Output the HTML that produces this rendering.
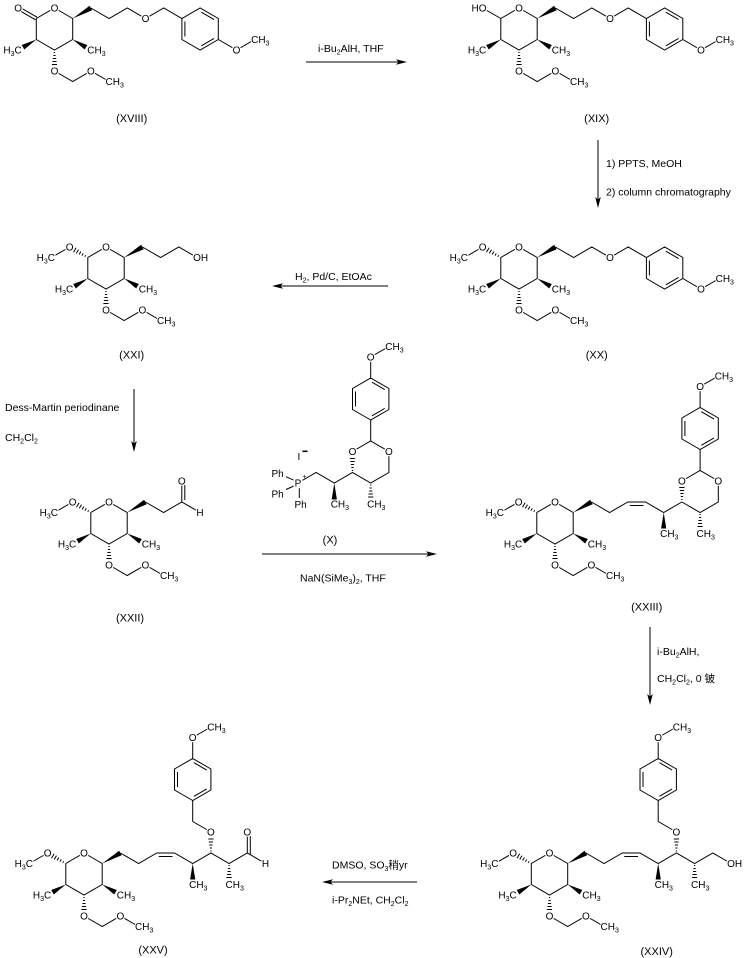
<!DOCTYPE html>
<html><head><meta charset="utf-8"><style>
html,body{margin:0;padding:0;background:#fff;}
svg{display:block;}
text{font-family:"Liberation Sans","Noto Sans CJK SC",sans-serif;font-size:10px;fill:#000;stroke:none;}
.s{font-size:7px;}
.r{font-size:10.5px;}
.l{font-size:11px;}
.b{stroke:#000;stroke-width:1;fill:none;}
.m{fill:#fff;stroke:none;}
</style></head><body>
<svg width="746" height="958" viewBox="0 0 746 958" xmlns="http://www.w3.org/2000/svg">
<rect width="746" height="958" fill="#fff"/>

<!-- XVIII -->
<g transform="translate(54.5,29)">
<path class="b" d="M0,-21L18.2,-10.5L18.2,10.5L0,21L-18.2,10.5L-18.2,-10.5Z M0,42L18.2,52.5L36.4,42L54.6,52.5 M-.6,23.5H.6M-1.1,26.5H1.1M-1.6,29.5H1.6M-2.1,32.5H2.1M-2.6,35.5H2.6"/>
<path d="M-18.2,10.5L-30.2,20.45L-32.8,15.95ZM18.2,10.5L32.8,15.95L30.2,20.45ZM18.2,-10.5L37.7,-18.75L35.1,-23.25Z"/>
<circle class="m" cx="0" cy="-21" r="4.8"/><circle class="m" cx="0" cy="42" r="4.8"/><circle class="m" cx="36.4" cy="42" r="4.8"/><rect class="m" x="51" y="47.5" width="8" height="10"/>
<text x="0" y="-17.4" text-anchor="middle">O</text>
<text x="-32.8" y="24.6" text-anchor="end">H<tspan class="s" dy="2.5">3</tspan><tspan dy="-2.5">C</tspan></text>
<text x="32.8" y="24.6">CH<tspan class="s" dy="2.5">3</tspan></text>
<text x="0" y="45.6" text-anchor="middle">O</text>
<text x="36.4" y="45.6" text-anchor="middle">O</text>
<text x="51" y="56.1">CH<tspan class="s" dy="2.5">3</tspan></text>
<path class="b" d="M-17.45,-11.8L-35.65,-22.3M-18.95,-9.2L-37.15,-19.7"/>
<circle class="m" cx="-36.4" cy="-21" r="4.8"/>
<text x="-36.4" y="-17.4" text-anchor="middle">O</text>
<path class="b" d="M36.4,-21L54.6,-10.5L72.8,-21L91,-10.5L109.2,-21L127.4,-10.5L145.6,-21L163.8,-10.5L163.8,10.5L145.6,21L127.4,10.5L127.4,-10.5M130.4,-7.5V7.5M146.83,-16.82L159.57,-9.48M159.57,9.48L146.83,16.82M163.8,10.5L182,21L200.2,10.5"/>
<circle class="m" cx="91" cy="-10.5" r="4.8"/><circle class="m" cx="182" cy="21" r="4.8"/><rect class="m" x="196.6" y="5.5" width="8" height="10"/>
<text x="91" y="-6.9" text-anchor="middle">O</text>
<text x="182" y="24.6" text-anchor="middle">O</text>
<text x="196.6" y="14.1">CH<tspan class="s" dy="2.5">3</tspan></text>
</g>
<text class="l" x="131.7" y="122" text-anchor="middle">(XVIII)</text>

<!-- XIX -->
<g transform="translate(519,29)">
<path class="b" d="M0,-21L18.2,-10.5L18.2,10.5L0,21L-18.2,10.5L-18.2,-10.5Z M0,42L18.2,52.5L36.4,42L54.6,52.5 M-.6,23.5H.6M-1.1,26.5H1.1M-1.6,29.5H1.6M-2.1,32.5H2.1M-2.6,35.5H2.6"/>
<path d="M-18.2,10.5L-30.2,20.45L-32.8,15.95ZM18.2,10.5L32.8,15.95L30.2,20.45ZM18.2,-10.5L37.7,-18.75L35.1,-23.25Z"/>
<circle class="m" cx="0" cy="-21" r="4.8"/><circle class="m" cx="0" cy="42" r="4.8"/><circle class="m" cx="36.4" cy="42" r="4.8"/><rect class="m" x="51" y="47.5" width="8" height="10"/>
<text x="0" y="-17.4" text-anchor="middle">O</text>
<text x="-32.8" y="24.6" text-anchor="end">H<tspan class="s" dy="2.5">3</tspan><tspan dy="-2.5">C</tspan></text>
<text x="32.8" y="24.6">CH<tspan class="s" dy="2.5">3</tspan></text>
<text x="0" y="45.6" text-anchor="middle">O</text>
<text x="36.4" y="45.6" text-anchor="middle">O</text>
<text x="51" y="56.1">CH<tspan class="s" dy="2.5">3</tspan></text>
<path class="b" d="M-18.2,-10.5L-36.4,-21"/>
<circle class="m" cx="-36.4" cy="-21" r="4.8"/>
<text x="-32.5" y="-17.4" text-anchor="end">HO</text>
<path class="b" d="M36.4,-21L54.6,-10.5L72.8,-21L91,-10.5L109.2,-21L127.4,-10.5L145.6,-21L163.8,-10.5L163.8,10.5L145.6,21L127.4,10.5L127.4,-10.5M130.4,-7.5V7.5M146.83,-16.82L159.57,-9.48M159.57,9.48L146.83,16.82M163.8,10.5L182,21L200.2,10.5"/>
<circle class="m" cx="91" cy="-10.5" r="4.8"/><circle class="m" cx="182" cy="21" r="4.8"/><rect class="m" x="196.6" y="5.5" width="8" height="10"/>
<text x="91" y="-6.9" text-anchor="middle">O</text>
<text x="182" y="24.6" text-anchor="middle">O</text>
<text x="196.6" y="14.1">CH<tspan class="s" dy="2.5">3</tspan></text>
</g>
<text class="l" x="596.7" y="122" text-anchor="middle">(XIX)</text>

<!-- XX -->
<g transform="translate(519,268)">
<path class="b" d="M0,-21L18.2,-10.5L18.2,10.5L0,21L-18.2,10.5L-18.2,-10.5Z M0,42L18.2,52.5L36.4,42L54.6,52.5 M-.6,23.5H.6M-1.1,26.5H1.1M-1.6,29.5H1.6M-2.1,32.5H2.1M-2.6,35.5H2.6"/>
<path d="M-18.2,10.5L-30.2,20.45L-32.8,15.95ZM18.2,10.5L32.8,15.95L30.2,20.45ZM18.2,-10.5L37.7,-18.75L35.1,-23.25Z"/>
<circle class="m" cx="0" cy="-21" r="4.8"/><circle class="m" cx="0" cy="42" r="4.8"/><circle class="m" cx="36.4" cy="42" r="4.8"/><rect class="m" x="51" y="47.5" width="8" height="10"/>
<text x="0" y="-17.4" text-anchor="middle">O</text>
<text x="-32.8" y="24.6" text-anchor="end">H<tspan class="s" dy="2.5">3</tspan><tspan dy="-2.5">C</tspan></text>
<text x="32.8" y="24.6">CH<tspan class="s" dy="2.5">3</tspan></text>
<text x="0" y="45.6" text-anchor="middle">O</text>
<text x="36.4" y="45.6" text-anchor="middle">O</text>
<text x="51" y="56.1">CH<tspan class="s" dy="2.5">3</tspan></text>
<path class="b" d="M-20.35,-12.78L-21.25,-11.22M-22.73,-14.67L-24.08,-12.33M-25.1,-16.56L-26.9,-13.44M-27.5,-18.4L-29.7,-14.6M-29.9,-20.25L-32.5,-15.75M-36.4,-21L-54.6,-10.5"/>
<circle class="m" cx="-36.4" cy="-21" r="4.8"/><rect class="m" x="-58.5" y="-15.5" width="8" height="10"/>
<text x="-36.4" y="-17.4" text-anchor="middle">O</text>
<text x="-51" y="-6.9" text-anchor="end">H<tspan class="s" dy="2.5">3</tspan><tspan dy="-2.5">C</tspan></text>
<path class="b" d="M36.4,-21L54.6,-10.5L72.8,-21L91,-10.5L109.2,-21L127.4,-10.5L145.6,-21L163.8,-10.5L163.8,10.5L145.6,21L127.4,10.5L127.4,-10.5M130.4,-7.5V7.5M146.83,-16.82L159.57,-9.48M159.57,9.48L146.83,16.82M163.8,10.5L182,21L200.2,10.5"/>
<circle class="m" cx="91" cy="-10.5" r="4.8"/><circle class="m" cx="182" cy="21" r="4.8"/><rect class="m" x="196.6" y="5.5" width="8" height="10"/>
<text x="91" y="-6.9" text-anchor="middle">O</text>
<text x="182" y="24.6" text-anchor="middle">O</text>
<text x="196.6" y="14.1">CH<tspan class="s" dy="2.5">3</tspan></text>
</g>
<text class="l" x="596.7" y="358.5" text-anchor="middle">(XX)</text>

<!-- XXI -->
<g transform="translate(106,268)">
<path class="b" d="M0,-21L18.2,-10.5L18.2,10.5L0,21L-18.2,10.5L-18.2,-10.5Z M0,42L18.2,52.5L36.4,42L54.6,52.5 M-.6,23.5H.6M-1.1,26.5H1.1M-1.6,29.5H1.6M-2.1,32.5H2.1M-2.6,35.5H2.6"/>
<path d="M-18.2,10.5L-30.2,20.45L-32.8,15.95ZM18.2,10.5L32.8,15.95L30.2,20.45ZM18.2,-10.5L37.7,-18.75L35.1,-23.25Z"/>
<circle class="m" cx="0" cy="-21" r="4.8"/><circle class="m" cx="0" cy="42" r="4.8"/><circle class="m" cx="36.4" cy="42" r="4.8"/><rect class="m" x="51" y="47.5" width="8" height="10"/>
<text x="0" y="-17.4" text-anchor="middle">O</text>
<text x="-32.8" y="24.6" text-anchor="end">H<tspan class="s" dy="2.5">3</tspan><tspan dy="-2.5">C</tspan></text>
<text x="32.8" y="24.6">CH<tspan class="s" dy="2.5">3</tspan></text>
<text x="0" y="45.6" text-anchor="middle">O</text>
<text x="36.4" y="45.6" text-anchor="middle">O</text>
<text x="51" y="56.1">CH<tspan class="s" dy="2.5">3</tspan></text>
<path class="b" d="M-20.35,-12.78L-21.25,-11.22M-22.73,-14.67L-24.08,-12.33M-25.1,-16.56L-26.9,-13.44M-27.5,-18.4L-29.7,-14.6M-29.9,-20.25L-32.5,-15.75M-36.4,-21L-54.6,-10.5"/>
<circle class="m" cx="-36.4" cy="-21" r="4.8"/><rect class="m" x="-58.5" y="-15.5" width="8" height="10"/>
<text x="-36.4" y="-17.4" text-anchor="middle">O</text>
<text x="-51" y="-6.9" text-anchor="end">H<tspan class="s" dy="2.5">3</tspan><tspan dy="-2.5">C</tspan></text>
<path class="b" d="M36.4,-21L54.6,-10.5L72.8,-21L91,-10.5"/>
<circle class="m" cx="91" cy="-10.5" r="4.8"/>
<text x="87.1" y="-6.9">OH</text>
</g>
<text class="l" x="131.7" y="358.5" text-anchor="middle">(XXI)</text>

<!-- XXII -->
<g transform="translate(109,523)">
<path class="b" d="M0,-21L18.2,-10.5L18.2,10.5L0,21L-18.2,10.5L-18.2,-10.5Z M0,42L18.2,52.5L36.4,42L54.6,52.5 M-.6,23.5H.6M-1.1,26.5H1.1M-1.6,29.5H1.6M-2.1,32.5H2.1M-2.6,35.5H2.6"/>
<path d="M-18.2,10.5L-30.2,20.45L-32.8,15.95ZM18.2,10.5L32.8,15.95L30.2,20.45ZM18.2,-10.5L37.7,-18.75L35.1,-23.25Z"/>
<circle class="m" cx="0" cy="-21" r="4.8"/><circle class="m" cx="0" cy="42" r="4.8"/><circle class="m" cx="36.4" cy="42" r="4.8"/><rect class="m" x="51" y="47.5" width="8" height="10"/>
<text x="0" y="-17.4" text-anchor="middle">O</text>
<text x="-32.8" y="24.6" text-anchor="end">H<tspan class="s" dy="2.5">3</tspan><tspan dy="-2.5">C</tspan></text>
<text x="32.8" y="24.6">CH<tspan class="s" dy="2.5">3</tspan></text>
<text x="0" y="45.6" text-anchor="middle">O</text>
<text x="36.4" y="45.6" text-anchor="middle">O</text>
<text x="51" y="56.1">CH<tspan class="s" dy="2.5">3</tspan></text>
<path class="b" d="M-20.35,-12.78L-21.25,-11.22M-22.73,-14.67L-24.08,-12.33M-25.1,-16.56L-26.9,-13.44M-27.5,-18.4L-29.7,-14.6M-29.9,-20.25L-32.5,-15.75M-36.4,-21L-54.6,-10.5"/>
<circle class="m" cx="-36.4" cy="-21" r="4.8"/><rect class="m" x="-58.5" y="-15.5" width="8" height="10"/>
<text x="-36.4" y="-17.4" text-anchor="middle">O</text>
<text x="-51" y="-6.9" text-anchor="end">H<tspan class="s" dy="2.5">3</tspan><tspan dy="-2.5">C</tspan></text>
<path class="b" d="M36.4,-21L54.6,-10.5L72.8,-21L91,-10.5M72.8,-21V-42M75.8,-23V-38"/>
<circle class="m" cx="72.8" cy="-42" r="4.8"/><circle class="m" cx="91" cy="-10.5" r="4.8"/>
<text x="72.8" y="-38.4" text-anchor="middle">O</text>
<text x="91" y="-6.9" text-anchor="middle">H</text>
</g>
<text class="l" x="130" y="621.5" text-anchor="middle">(XXII)</text>

<!-- XXIII -->
<g transform="translate(555,523)">
<path class="b" d="M0,-21L18.2,-10.5L18.2,10.5L0,21L-18.2,10.5L-18.2,-10.5Z M0,42L18.2,52.5L36.4,42L54.6,52.5 M-.6,23.5H.6M-1.1,26.5H1.1M-1.6,29.5H1.6M-2.1,32.5H2.1M-2.6,35.5H2.6"/>
<path d="M-18.2,10.5L-30.2,20.45L-32.8,15.95ZM18.2,10.5L32.8,15.95L30.2,20.45ZM18.2,-10.5L37.7,-18.75L35.1,-23.25Z"/>
<circle class="m" cx="0" cy="-21" r="4.8"/><circle class="m" cx="0" cy="42" r="4.8"/><circle class="m" cx="36.4" cy="42" r="4.8"/><rect class="m" x="51" y="47.5" width="8" height="10"/>
<text x="0" y="-17.4" text-anchor="middle">O</text>
<text x="-32.8" y="24.6" text-anchor="end">H<tspan class="s" dy="2.5">3</tspan><tspan dy="-2.5">C</tspan></text>
<text x="32.8" y="24.6">CH<tspan class="s" dy="2.5">3</tspan></text>
<text x="0" y="45.6" text-anchor="middle">O</text>
<text x="36.4" y="45.6" text-anchor="middle">O</text>
<text x="51" y="56.1">CH<tspan class="s" dy="2.5">3</tspan></text>
<path class="b" d="M-20.35,-12.78L-21.25,-11.22M-22.73,-14.67L-24.08,-12.33M-25.1,-16.56L-26.9,-13.44M-27.5,-18.4L-29.7,-14.6M-29.9,-20.25L-32.5,-15.75M-36.4,-21L-54.6,-10.5"/>
<circle class="m" cx="-36.4" cy="-21" r="4.8"/><rect class="m" x="-58.5" y="-15.5" width="8" height="10"/>
<text x="-36.4" y="-17.4" text-anchor="middle">O</text>
<text x="-51" y="-6.9" text-anchor="end">H<tspan class="s" dy="2.5">3</tspan><tspan dy="-2.5">C</tspan></text>
</g>
<path class="b" d="M591.4,502L609.6,512.5L627.8,502L645.5,502L663.7,512.5L681.9,502M629.8,505.5H643.5
M681.9,502L700.1,512.5L718.3,502L718.3,481L700.1,470.5L681.9,481
M681.3,499.5H682.5M680.8,496.5H683M680.3,493.5H683.5M679.8,490.5H684M679.3,487.5H684.5
M699.5,514.5H700.7M699,517.5H701.2M698.5,520.5H701.7M698,523.5H702.2M697.5,526.5H702.7
M700.1,470.5V449.5M700.1,449.5L681.9,439V418L700.1,407.5L718.3,418V439Z
M684.9,421V436M701.33,411.68L714.07,419.02M714.07,437.98L701.33,445.32
M700.1,407.5V386.5L718.3,376"/>
<path d="M663.7,512.5L661.1,528.5L666.3,528.5Z"/>
<circle class="m" cx="681.9" cy="481" r="4.8"/><circle class="m" cx="718.3" cy="481" r="4.8"/><circle class="m" cx="700.1" cy="386.5" r="4.8"/>
<rect class="m" x="714.7" y="371" width="8" height="10"/>
<text x="681.9" y="484.6" text-anchor="middle">O</text>
<text x="718.3" y="484.6" text-anchor="middle">O</text>
<text x="700.1" y="390.1" text-anchor="middle">O</text>
<text x="714.7" y="379.6">CH<tspan class="s" dy="2.5">3</tspan></text>
<text x="660.1" y="537.1">CH<tspan class="s" dy="2.5">3</tspan></text>
<text x="696.5" y="537.1">CH<tspan class="s" dy="2.5">3</tspan></text>
<text class="l" x="646.7" y="610.5" text-anchor="middle">(XXIII)</text>

<!-- XXIV -->
<g transform="translate(549.5,874)">
<path class="b" d="M0,-21L18.2,-10.5L18.2,10.5L0,21L-18.2,10.5L-18.2,-10.5Z M0,42L18.2,52.5L36.4,42L54.6,52.5 M-.6,23.5H.6M-1.1,26.5H1.1M-1.6,29.5H1.6M-2.1,32.5H2.1M-2.6,35.5H2.6"/>
<path d="M-18.2,10.5L-30.2,20.45L-32.8,15.95ZM18.2,10.5L32.8,15.95L30.2,20.45ZM18.2,-10.5L37.7,-18.75L35.1,-23.25Z"/>
<circle class="m" cx="0" cy="-21" r="4.8"/><circle class="m" cx="0" cy="42" r="4.8"/><circle class="m" cx="36.4" cy="42" r="4.8"/><rect class="m" x="51" y="47.5" width="8" height="10"/>
<text x="0" y="-17.4" text-anchor="middle">O</text>
<text x="-32.8" y="24.6" text-anchor="end">H<tspan class="s" dy="2.5">3</tspan><tspan dy="-2.5">C</tspan></text>
<text x="32.8" y="24.6">CH<tspan class="s" dy="2.5">3</tspan></text>
<text x="0" y="45.6" text-anchor="middle">O</text>
<text x="36.4" y="45.6" text-anchor="middle">O</text>
<text x="51" y="56.1">CH<tspan class="s" dy="2.5">3</tspan></text>
<path class="b" d="M-20.35,-12.78L-21.25,-11.22M-22.73,-14.67L-24.08,-12.33M-25.1,-16.56L-26.9,-13.44M-27.5,-18.4L-29.7,-14.6M-29.9,-20.25L-32.5,-15.75M-36.4,-21L-54.6,-10.5"/>
<circle class="m" cx="-36.4" cy="-21" r="4.8"/><rect class="m" x="-58.5" y="-15.5" width="8" height="10"/>
<text x="-36.4" y="-17.4" text-anchor="middle">O</text>
<text x="-51" y="-6.9" text-anchor="end">H<tspan class="s" dy="2.5">3</tspan><tspan dy="-2.5">C</tspan></text>
</g>
<path class="b" d="M585.9,853L604.1,863.5L622.3,853L640,853L658.2,863.5L676.4,853L694.6,863.5L712.8,853L731,863.5M624.3,856.5H638
M675.8,851H677M675.3,848H677.5M674.8,845H678M674.3,842H678.5M673.8,839H679
M694,865.5H695.2M693.5,868.5H695.7M693,871.5H696.2M692.5,874.5H696.7M692,877.5H697.2
M676.4,832L658.2,821.5V800.5M658.2,800.5L640,790V769L658.2,758.5L676.4,769V790Z
M643,772V787M659.43,762.68L672.17,770.02M672.17,788.98L659.43,796.32
M658.2,758.5V737.5L676.4,727"/>
<path d="M658.2,863.5L655.6,879.5L660.8,879.5Z"/>
<circle class="m" cx="676.4" cy="832" r="4.8"/><circle class="m" cx="658.2" cy="737.5" r="4.8"/><circle class="m" cx="731" cy="863.5" r="4.8"/>
<rect class="m" x="672.8" y="722" width="8" height="10"/>
<text x="676.4" y="835.6" text-anchor="middle">O</text>
<text x="658.2" y="741.1" text-anchor="middle">O</text>
<text x="672.8" y="730.6">CH<tspan class="s" dy="2.5">3</tspan></text>
<text x="654.6" y="888.1">CH<tspan class="s" dy="2.5">3</tspan></text>
<text x="691" y="888.1">CH<tspan class="s" dy="2.5">3</tspan></text>
<text x="727.1" y="867.1">OH</text>
<text class="l" x="656.7" y="955" text-anchor="middle">(XXIV)</text>

<!-- XXV -->
<g transform="translate(84,874)">
<path class="b" d="M0,-21L18.2,-10.5L18.2,10.5L0,21L-18.2,10.5L-18.2,-10.5Z M0,42L18.2,52.5L36.4,42L54.6,52.5 M-.6,23.5H.6M-1.1,26.5H1.1M-1.6,29.5H1.6M-2.1,32.5H2.1M-2.6,35.5H2.6"/>
<path d="M-18.2,10.5L-30.2,20.45L-32.8,15.95ZM18.2,10.5L32.8,15.95L30.2,20.45ZM18.2,-10.5L37.7,-18.75L35.1,-23.25Z"/>
<circle class="m" cx="0" cy="-21" r="4.8"/><circle class="m" cx="0" cy="42" r="4.8"/><circle class="m" cx="36.4" cy="42" r="4.8"/><rect class="m" x="51" y="47.5" width="8" height="10"/>
<text x="0" y="-17.4" text-anchor="middle">O</text>
<text x="-32.8" y="24.6" text-anchor="end">H<tspan class="s" dy="2.5">3</tspan><tspan dy="-2.5">C</tspan></text>
<text x="32.8" y="24.6">CH<tspan class="s" dy="2.5">3</tspan></text>
<text x="0" y="45.6" text-anchor="middle">O</text>
<text x="36.4" y="45.6" text-anchor="middle">O</text>
<text x="51" y="56.1">CH<tspan class="s" dy="2.5">3</tspan></text>
<path class="b" d="M-20.35,-12.78L-21.25,-11.22M-22.73,-14.67L-24.08,-12.33M-25.1,-16.56L-26.9,-13.44M-27.5,-18.4L-29.7,-14.6M-29.9,-20.25L-32.5,-15.75M-36.4,-21L-54.6,-10.5"/>
<circle class="m" cx="-36.4" cy="-21" r="4.8"/><rect class="m" x="-58.5" y="-15.5" width="8" height="10"/>
<text x="-36.4" y="-17.4" text-anchor="middle">O</text>
<text x="-51" y="-6.9" text-anchor="end">H<tspan class="s" dy="2.5">3</tspan><tspan dy="-2.5">C</tspan></text>
</g>
<path class="b" d="M120.4,853L138.6,863.5L156.8,853L174.5,853L192.7,863.5L210.9,853L229.1,863.5L247.3,853L265.5,863.5M158.8,856.5H172.5
M247.3,853V832M250.3,855V836
M210.3,851H211.5M209.8,848H212M209.3,845H212.5M208.8,842H213M208.3,839H213.5
M228.5,865.5H229.7M228,868.5H230.2M227.5,871.5H230.7M227,874.5H231.2M226.5,877.5H231.7
M210.9,832L192.7,821.5V800.5M192.7,800.5L174.5,790V769L192.7,758.5L210.9,769V790Z
M177.5,772V787M193.93,762.68L206.67,770.02M206.67,788.98L193.93,796.32
M192.7,758.5V737.5L210.9,727"/>
<path d="M192.7,863.5L190.1,879.5L195.3,879.5Z"/>
<circle class="m" cx="210.9" cy="832" r="4.8"/><circle class="m" cx="192.7" cy="737.5" r="4.8"/><circle class="m" cx="247.3" cy="832" r="4.8"/><circle class="m" cx="265.5" cy="863.5" r="4.8"/>
<rect class="m" x="207.3" y="722" width="8" height="10"/>
<text x="210.9" y="835.6" text-anchor="middle">O</text>
<text x="192.7" y="741.1" text-anchor="middle">O</text>
<text x="207.3" y="730.6">CH<tspan class="s" dy="2.5">3</tspan></text>
<text x="189.1" y="888.1">CH<tspan class="s" dy="2.5">3</tspan></text>
<text x="225.5" y="888.1">CH<tspan class="s" dy="2.5">3</tspan></text>
<text x="247.3" y="835.6" text-anchor="middle">O</text>
<text x="265.5" y="867.1" text-anchor="middle">H</text>
<text class="l" x="153" y="953.5" text-anchor="middle">(XXV)</text>

<!-- Reagent X -->
<path class="b" d="M352.5,451.5L370.7,441L388.9,451.5V472.5L370.7,483L352.5,472.5L334.3,483L316.1,472.5L297.9,483
M351.9,470.5H353.1M351.4,467.5H353.6M350.9,464.5H354.1M350.4,461.5H354.6M349.9,458.5H355.1
M370.1,485H371.3M369.6,488H371.8M369.1,491H372.3M368.6,494H372.8M368.1,497H373.3
M370.7,441V420M370.7,420L352.5,409.5V388.5L370.7,378L388.9,388.5V409.5Z
M355.5,391.5V406.5M371.93,382.18L384.67,389.52M384.67,408.48L371.93,415.82
M370.7,378V357L388.9,346.5
M286,476.7L295,480.7M286,489.5L295,485.5M299.3,488.3V498"/>
<path d="M334.3,483L331.7,499.5L336.9,499.5Z"/>
<circle class="m" cx="352.5" cy="451.5" r="4.8"/><circle class="m" cx="388.9" cy="451.5" r="4.8"/><circle class="m" cx="370.7" cy="357" r="4.8"/>
<rect class="m" x="385.3" y="341.5" width="8" height="10"/><rect class="m" x="293.5" y="477.5" width="9" height="10"/>
<text x="352.5" y="455.1" text-anchor="middle">O</text>
<text x="388.9" y="455.1" text-anchor="middle">O</text>
<text x="370.7" y="360.6" text-anchor="middle">O</text>
<text x="385.3" y="350.1">CH<tspan class="s" dy="2.5">3</tspan></text>
<text x="330.7" y="507.6">CH<tspan class="s" dy="2.5">3</tspan></text>
<text x="367.1" y="507.6">CH<tspan class="s" dy="2.5">3</tspan></text>
<text x="297.9" y="486.6" text-anchor="middle">P</text>
<text class="s" x="302.5" y="479">+</text>
<text x="271.5" y="477">Ph</text>
<text x="271.5" y="497.5">Ph</text>
<text x="294.5" y="508">Ph</text>
<text x="297.5" y="460">I</text>
<rect x="302.5" y="450.5" width="5" height="1.6" fill="#000"/>
<text class="l" x="330" y="543.5" text-anchor="middle">(X)</text>

<!-- Arrows -->
<path class="b" d="M306,62H400M598,140V200M388,286H279M134,389V445M262,554H430M650,627V698M417,882H329"/>
<path d="M407,62L396,59.2L398.5,62L396,64.8Z M598,208L595.2,197L598,199.5L600.8,197Z M272,286L283,283.2L280.5,286L283,288.8Z M134,452L131.2,441L134,443.5L136.8,441Z M437,554L426,551.2L428.5,554L426,556.8Z M650,705L647.2,694L650,696.5L652.8,694Z M322,882L333,879.2L330.5,882L333,884.8Z"/>

<!-- Reagent texts -->
<text class="r" x="318" y="52">i-Bu<tspan class="s" dy="2.5">2</tspan><tspan dy="-2.5">AlH, THF</tspan></text>
<text class="r" x="606" y="167">1) PPTS, MeOH</text>
<text class="r" x="606" y="195.5">2) column chromatography</text>
<text class="r" x="295" y="280">H<tspan class="s" dy="2.5">2</tspan><tspan dy="-2.5">, Pd/C, EtOAc</tspan></text>
<text class="r" x="5" y="411">Dess-Martin periodinane</text>
<text class="r" x="5" y="441">CH<tspan class="s" dy="2.5">2</tspan><tspan dy="-2.5">Cl</tspan><tspan class="s" dy="2.5">2</tspan></text>
<text class="r" x="300" y="581.5">NaN(SiMe<tspan class="s" dy="2.5">3</tspan><tspan dy="-2.5">)</tspan><tspan class="s" dy="2.5">2</tspan><tspan dy="-2.5">, THF</tspan></text>
<text class="r" x="657" y="655">i-Bu<tspan class="s" dy="2.5">2</tspan><tspan dy="-2.5">AlH,</tspan></text>
<text class="r" x="657" y="682">CH<tspan class="s" dy="2.5">2</tspan><tspan dy="-2.5">Cl</tspan><tspan class="s" dy="2.5">2</tspan><tspan dy="-2.5">, 0 铍</tspan></text>
<text class="r" x="332" y="868.5">DMSO, SO<tspan class="s" dy="2.5">3</tspan><tspan dy="-2.5">稍yr</tspan></text>
<text class="r" x="332" y="903.5">i-Pr<tspan class="s" dy="2.5">2</tspan><tspan dy="-2.5">NEt, CH</tspan><tspan class="s" dy="2.5">2</tspan><tspan dy="-2.5">Cl</tspan><tspan class="s" dy="2.5">2</tspan></text>
</svg>
</body></html>
